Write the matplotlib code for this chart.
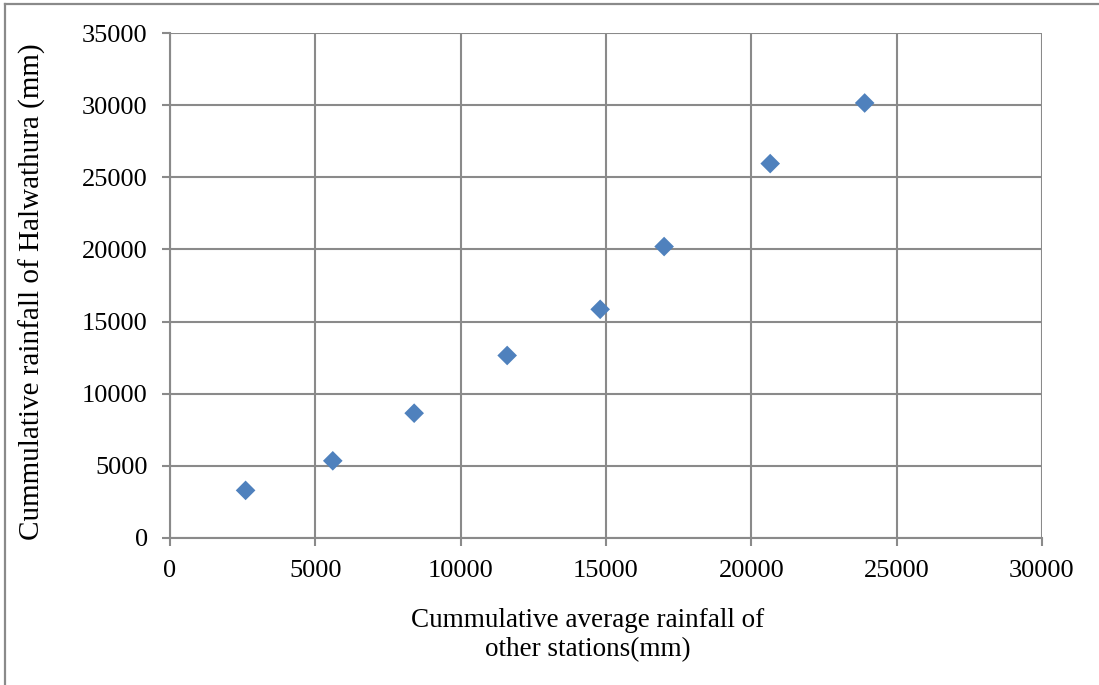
import matplotlib
matplotlib.use("Agg")
import matplotlib.pyplot as plt
from matplotlib.lines import Line2D

# Cumulative rainfall (mm): average of other stations vs Halwathura
avg_other_cum = [2600, 5600, 8400, 11600, 14800, 17000, 20650, 23900]
halwathura_cum = [3300, 5350, 8650, 12650, 15850, 20200, 25950, 30150]

x_ticks = [0, 5000, 10000, 15000, 20000, 25000, 30000]
y_ticks = [0, 5000, 10000, 15000, 20000, 25000, 30000, 35000]

plt.rcParams['font.family'] = ['Liberation Serif', 'DejaVu Serif']

fig = plt.figure(figsize=(10.99, 6.85), dpi=100)
ax = fig.add_axes([0.1547, 0.2146, 0.7934, 0.7372])

grid_col = '#8a8a8a'
ax.scatter(avg_other_cum, halwathura_cum, marker='D', s=100, color='#4F81BD',
           edgecolors='none', zorder=3)

ax.set_xlim(0, 30000)
ax.set_ylim(0, 35000)
ax.set_xticks(x_ticks)
ax.set_yticks(y_ticks)
ax.grid(True, color=grid_col, linewidth=1.5)
ax.set_axisbelow(True)
for side in ['top', 'right']:
    ax.spines[side].set_visible(False)
for side in ['left', 'bottom']:
    ax.spines[side].set_color(grid_col)
    ax.spines[side].set_linewidth(1.5)
ax.tick_params(axis='both', which='major', length=6, width=1.5, color=grid_col,
               labelsize=19, pad=10)

ax.set_ylabel('Cummulative rainfall of Halwathura (mm)', fontsize=21)
ax.yaxis.set_label_coords(-0.142, 0.488)
fig.text(0.535, 0.034, 'Cummulative average rainfall of\nother stations(mm)',
         ha='center', va='bottom', fontsize=19.5, linespacing=1.2)

# Outer chart frame
fig.add_artist(Line2D([0.0042, 0.0042], [0.0, 0.9942], transform=fig.transFigure,
                      color='#8a8a8a', linewidth=1.6))
fig.add_artist(Line2D([0.0042, 1.0], [0.9942, 0.9942], transform=fig.transFigure,
                      color='#8a8a8a', linewidth=1.6))

fig.savefig('out.png', dpi=100)
